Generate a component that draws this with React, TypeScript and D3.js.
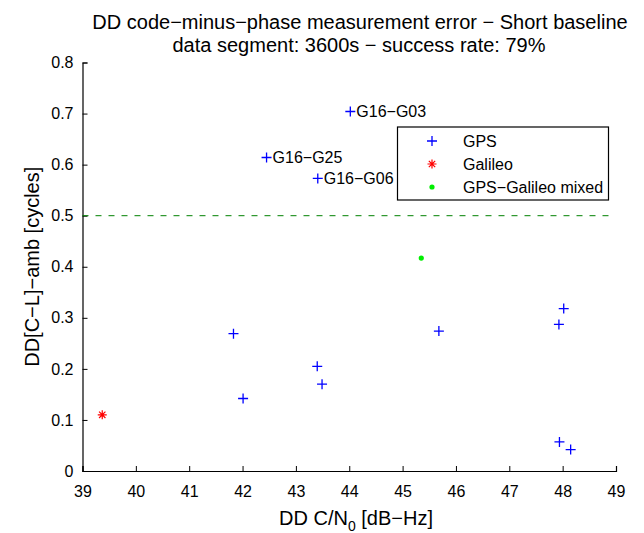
import React, { useEffect, useRef } from 'react';
import * as d3 from 'd3';

// GPS double differences (C/N0 in dB-Hz, error in cycles)
const gpsCn0 = [44.02, 42.45, 43.41, 41.83, 43.40, 43.49, 42.01, 48.02, 47.93, 45.68, 47.94, 48.15];
const gpsErr = [0.704, 0.614, 0.573, 0.269, 0.205, 0.170, 0.142, 0.318, 0.287, 0.274, 0.057, 0.042];
const gpsNames = ['G16−G03', 'G16−G25', 'G16−G06', '', '', '', '', '', '', '', '', ''];

const galCn0 = [39.37];
const galErr = [0.110];

const mixCn0 = [45.35];
const mixErr = [0.417];

const xTicks = [39, 40, 41, 42, 43, 44, 45, 46, 47, 48, 49];
const yTicks = [0, 0.1, 0.2, 0.3, 0.4, 0.5, 0.6, 0.7, 0.8];
const threshold = 0.5;

const legendNames = ['GPS', 'Galileo', 'GPS−Galileo mixed'];

const W = 644, H = 533;
const FONT = '"Liberation Sans", Arial, Helvetica, sans-serif';

const App = () => {
  const ref = useRef<SVGSVGElement>(null);

  useEffect(() => {
    const svg = d3.select(ref.current);
    svg.selectAll('*').remove();

    const left = 82.5, right = 616, top = 62.5, bottom = 471;
    const x = d3.scaleLinear().domain([39, 49]).range([left, right]);
    const y = d3.scaleLinear().domain([0, 0.8]).range([bottom, top]);

    // title
    const title = svg.append('text')
      .attr('text-anchor', 'middle')
      .attr('font-family', FONT).attr('font-size', 20).attr('fill', '#000');
    title.append('tspan').attr('x', 360).attr('y', 28.5)
      .text('DD code−minus−phase measurement error − Short baseline');
    title.append('tspan').attr('x', 359).attr('y', 52)
      .text('data segment: 3600s − success rate: 79%');

    // axes (MATLAB style, ticks inward, no box)
    const xAxis = svg.append('g').attr('transform', `translate(0,${bottom})`)
      .call(d3.axisBottom(x).tickValues(xTicks).tickSize(-5).tickPadding(10).tickFormat(d3.format('d')));
    const yAxis = svg.append('g').attr('transform', `translate(${left},0)`)
      .call(d3.axisLeft(y).tickValues(yTicks).tickSize(-5).tickPadding(9).tickFormat(d => (d === 0 ? '0' : d3.format('.1f')(d as number))));
    [xAxis, yAxis].forEach(g => {
      g.select('.domain').attr('stroke', '#000').attr('stroke-width', 1.2);
      g.selectAll('.tick line').attr('stroke', '#000');
      g.selectAll('.tick text').attr('font-family', FONT).attr('font-size', 16).attr('fill', '#000');
    });
    xAxis.selectAll('.tick text').attr('dy', '1em');

    // axis labels
    const xl = svg.append('text').attr('x', 356).attr('y', 525).attr('text-anchor', 'middle')
      .attr('font-family', FONT).attr('font-size', 20).attr('fill', '#000');
    xl.append('tspan').text('DD C/N');
    xl.append('tspan').attr('font-size', 14).attr('dy', 6).text('0');
    xl.append('tspan').attr('dy', -6).text(' [dB−Hz]');

    svg.append('text')
      .attr('transform', `translate(39,${(top + bottom) / 2}) rotate(-90)`)
      .attr('text-anchor', 'middle')
      .attr('font-family', FONT).attr('font-size', 20).attr('fill', '#000')
      .text('DD[C−L]−amb [cycles]');

    // threshold line
    svg.append('line')
      .attr('x1', left).attr('x2', right - 3)
      .attr('y1', y(threshold)).attr('y2', y(threshold))
      .attr('stroke', '#008000').attr('stroke-width', 1).attr('stroke-dasharray', '6,7');

    const plus = (g: any, cx: number, cy: number) => {
      g.append('path').attr('d', `M${cx - 5},${cy}H${cx + 5}M${cx},${cy - 5}V${cy + 5}`)
        .attr('stroke', '#0000ff').attr('stroke-width', 1.3).attr('fill', 'none');
    };
    const star = (g: any, cx: number, cy: number) => {
      const r = 4.5, d = r * 0.707;
      g.append('path')
        .attr('d', `M${cx - r},${cy}H${cx + r}M${cx},${cy - r}V${cy + r}M${cx - d},${cy - d}L${cx + d},${cy + d}M${cx - d},${cy + d}L${cx + d},${cy - d}`)
        .attr('stroke', '#ff0000').attr('stroke-width', 1.2).attr('fill', 'none');
    };
    const dot = (g: any, cx: number, cy: number) => {
      g.append('circle').attr('cx', cx).attr('cy', cy).attr('r', 2.6).attr('fill', '#00ee00');
    };

    const pts = svg.append('g');
    gpsCn0.forEach((c, i) => {
      plus(pts, x(c), y(gpsErr[i]));
      if (gpsNames[i]) {
        pts.append('text').attr('x', x(c) + 6).attr('y', y(gpsErr[i])).attr('dy', '0.35em')
          .attr('font-family', FONT).attr('font-size', 16).attr('fill', '#000').text(gpsNames[i]);
      }
    });
    galCn0.forEach((c, i) => star(pts, x(c), y(galErr[i])));
    mixCn0.forEach((c, i) => dot(pts, x(c), y(mixErr[i])));

    // legend
    const lg = svg.append('g');
    lg.append('rect').attr('x', 397.5).attr('y', 127).attr('width', 211).attr('height', 73)
      .attr('fill', '#fff').attr('stroke', '#000').attr('stroke-width', 1.2);
    const drawers = [plus, star, dot];
    legendNames.forEach((n, i) => {
      const ly = 141 + i * 23;
      drawers[i](lg, 432, ly);
      lg.append('text').attr('x', 463).attr('y', ly).attr('dy', '0.35em')
        .attr('font-family', FONT).attr('font-size', 16).attr('fill', '#000').text(n);
    });
  }, []);

  return (
    <svg ref={ref} width={W} height={H} style={{ position: 'absolute', left: 0, top: 0, background: '#fff' }} />
  );
};

export default App;
